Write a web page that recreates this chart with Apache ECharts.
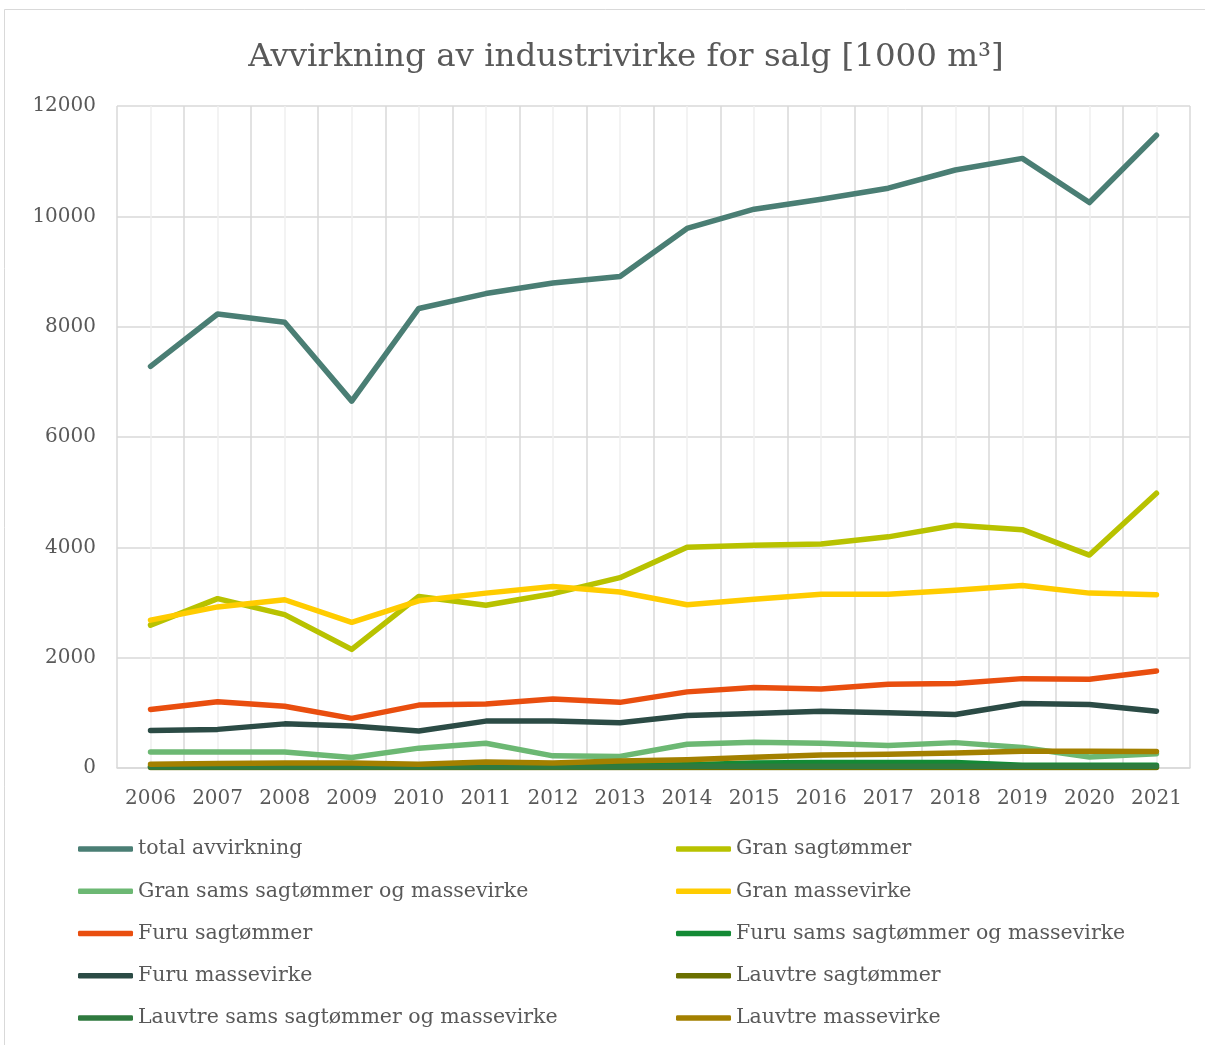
<!DOCTYPE html>
<html>
<head>
<meta charset="utf-8">
<title>Avvirkning av industrivirke for salg</title>
<script src="https://cdn.jsdelivr.net/npm/echarts@6/dist/echarts.min.js"></script>
<style>
  html, body { margin: 0; padding: 0; background: #ffffff; }
  #chart { width: 1205px; height: 1045px; }
</style>
</head>
<body>
<div id="chart"></div>
<script>
// Years on the category axis
const years = ['2006', '2007', '2008', '2009', '2010', '2011', '2012', '2013',
               '2014', '2015', '2016', '2017', '2018', '2019', '2020', '2021'];

// Y-axis ticks (1000 m³)
const yTicks = [0, 2000, 4000, 6000, 8000, 10000, 12000];

// Harvest volumes, 1000 m³
const totalAvvirkning   = [7280, 8230, 8080, 6650, 8330, 8600, 8790, 8910, 9780, 10130, 10310, 10510, 10840, 11050, 10250, 11470];
const granSagtommer     = [2590, 3070, 2780, 2150, 3110, 2950, 3160, 3450, 4000, 4040, 4060, 4190, 4400, 4320, 3860, 4980];
const granSams          = [290, 290, 290, 190, 360, 450, 220, 210, 430, 465, 450, 410, 460, 370, 200, 260];
const granMassevirke    = [2680, 2920, 3050, 2640, 3030, 3170, 3290, 3190, 2960, 3060, 3150, 3150, 3220, 3310, 3170, 3140];
const furuSagtommer     = [1060, 1200, 1120, 900, 1140, 1160, 1250, 1190, 1380, 1460, 1430, 1520, 1530, 1620, 1610, 1760];
const furuSams          = [30, 30, 30, 30, 30, 40, 40, 50, 60, 90, 100, 100, 100, 50, 50, 50];
const furuMassevirke    = [680, 700, 800, 760, 670, 850, 850, 820, 950, 990, 1030, 1000, 970, 1170, 1150, 1030];
const lauvtreSagtommer  = [10, 10, 10, 10, 10, 10, 10, 10, 10, 10, 10, 10, 10, 10, 10, 10];
const lauvtreSams       = [20, 20, 20, 20, 20, 20, 20, 20, 30, 30, 30, 30, 30, 30, 30, 30];
const lauvtreMassevirke = [70, 80, 90, 90, 70, 110, 90, 125, 150, 195, 235, 250, 270, 305, 305, 300];

const seriesNames = [
  'total avvirkning', 'Gran sagtømmer',
  'Gran sams sagtømmer og massevirke', 'Gran massevirke',
  'Furu sagtømmer', 'Furu sams sagtømmer og massevirke',
  'Furu massevirke', 'Lauvtre sagtømmer',
  'Lauvtre sams sagtømmer og massevirke', 'Lauvtre massevirke'
];
const seriesData = [
  totalAvvirkning, granSagtommer, granSams, granMassevirke, furuSagtommer,
  furuSams, furuMassevirke, lauvtreSagtommer, lauvtreSams, lauvtreMassevirke
];
const seriesColors = [
  '#4a7e74', '#b8c200', '#6cb873', '#ffcc00', '#e94e0f',
  '#138a35', '#2b4b45', '#6b7000', '#2f7a3f', '#a38000'
];

const FONT = '"DejaVu Serif", "Liberation Serif", serif';
const TEXT = '#595959';
const GRID = '#d9d9d9';

const chart = echarts.init(document.getElementById('chart'), null, { renderer: 'canvas' });

const legendText = { color: TEXT, fontFamily: FONT, fontSize: 20.5, lineHeight: 24 };
const legendCommon = {
  orient: 'vertical', top: 837, padding: 0, itemWidth: 55, itemHeight: 5.5, itemGap: 18.25,
  icon: 'roundRect', selectedMode: false, textStyle: legendText
};

chart.setOption({
  animation: false,
  backgroundColor: '#ffffff',
  color: seriesColors,
  title: {
    text: 'Avvirkning av industrivirke for salg [1000 m³]',
    left: 621, top: 36, textAlign: 'center',
    textStyle: { color: TEXT, fontFamily: FONT, fontSize: 32.5, fontWeight: 'normal' }
  },
  graphic: [{
    type: 'rect', silent: true, z: -1,
    shape: { x: 4.5, y: 9.5, width: 1300, height: 1100 },
    style: { fill: 'none', stroke: GRID, lineWidth: 1 }
  }],
  legend: [
    Object.assign({ left: 78, data: seriesNames.filter((_, i) => i % 2 === 0) }, legendCommon),
    Object.assign({ left: 676, data: seriesNames.filter((_, i) => i % 2 === 1) }, legendCommon)
  ],
  grid: { left: 117, right: 15, top: 106, bottom: 277, containLabel: false },
  xAxis: [{
    type: 'category', data: years, boundaryGap: true,
    axisLine: { show: true, lineStyle: { color: GRID, width: 1.5 } },
    axisTick: { show: false },
    splitLine: { show: false },
    axisLabel: { interval: 0, color: TEXT, fontFamily: FONT, fontSize: 20, margin: 21 }
  }, {
    // gridlines at category boundaries (darker) and centres (lighter)
    type: 'value', min: 0, max: 32, interval: 1, position: 'bottom',
    axisLine: { show: false }, axisTick: { show: false }, axisLabel: { show: false },
    splitLine: { show: true, lineStyle: { color: [GRID, '#efefef'], width: 1.5 } }
  }],
  yAxis: {
    type: 'value', min: yTicks[0], max: yTicks[yTicks.length - 1], interval: yTicks[1] - yTicks[0],
    axisLine: { show: false }, axisTick: { show: false },
    splitLine: { show: true, lineStyle: { color: GRID, width: 1.5 } },
    axisLabel: { color: TEXT, fontFamily: FONT, fontSize: 20, margin: 21, formatter: v => String(v) }
  },
  series: seriesNames.map((name, i) => ({
    name: name,
    type: 'line',
    xAxisIndex: 0,
    data: seriesData[i],
    symbol: 'none',
    showSymbol: false,
    lineStyle: { width: 5.5, color: seriesColors[i], cap: 'round', join: 'round' },
    itemStyle: { color: seriesColors[i] },
    emphasis: { disabled: true }
  }))
});
</script>
</body>
</html>
